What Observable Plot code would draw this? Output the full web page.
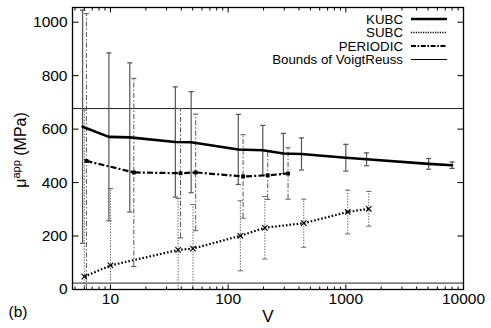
<!DOCTYPE html>
<html><head><meta charset="utf-8">
<script src="https://cdn.jsdelivr.net/npm/d3@7"></script>
<script src="https://cdn.jsdelivr.net/npm/@observablehq/plot@0.6"></script>
<style>body{margin:0;background:#fff}#c{position:relative;width:491px;height:328px}</style>
</head><body><div id="c"></div>
<script>
// KUBC
const kubcV  = [5.8, 9.7, 14.6, 35.6, 48.5, 122, 197, 295, 420, 1000, 1500, 5050, 8000];
const kubcMu = [609, 571, 569, 552, 551, 524, 521, 509, 507, 493, 487, 470, 465];
const kubcSd = [436, 314, 279, 206, 189, 131, 93, 75, 60, 50, 24, 20, 12];
// SUBC
const subcV  = [6.0, 10, 37.6, 50.3, 127, 205, 439, 1038, 1567];
const subcMu = [48, 90, 148, 153, 201, 231, 248, 290, 302];
const subcSd = [623, 288, 193, 165, 131, 117, 90, 82, 65];
// PERIODIC
const perV  = [6.25, 15.8, 39.4, 53, 134, 217, 323];
const perMu = [481, 438, 435, 438, 423, 427, 434];
const perSd = [551, 352, 242, 218, 156, 90, 96];
// Bounds of Voigt/Reuss
const bounds = [24, 677];
// ticks
const xTicksMajor = [10, 100, 1000, 10000];
const xTicksMinor = [5,6,7,8,9,20,30,40,50,60,70,80,90,200,300,400,500,600,700,800,900,2000,3000,4000,5000,6000,7000,8000,9000];
const yTicks = [0, 200, 400, 600, 800, 1000];
const legendLabels = ["KUBC", "SUBC", "PERIODIC", "Bounds of VoigtReuss"];

const xDomain = [4.76, 10000];
const yDomain = [0, 1055];

const table = (V, M, S) => V.map((v, i) => ({v, mu: M[i], sd: S[i]}));
const kubc = table(kubcV, kubcMu, kubcSd);
const subc = table(subcV, subcMu, subcSd);
const per = table(perV, perMu, perSd);

const lo = d => Math.max(yDomain[0], d.mu - d.sd);
const hi = d => Math.min(yDomain[1], d.mu + d.sd);
const capsOf = arr => [
  ...arr.filter(d => d.mu - d.sd >= yDomain[0]).map(d => ({v: d.v, y: d.mu - d.sd})),
  ...arr.filter(d => d.mu + d.sd <= yDomain[1]).map(d => ({v: d.v, y: d.mu + d.sd}))
];

const seg = (x1, y1, x2, y2) => ({draw(ctx) { ctx.moveTo(x1, y1); ctx.lineTo(x2, y2); }});
const capSym = seg(-2.6, 0, 2.6, 0);

const font = "'Liberation Sans', Arial, Helvetica, sans-serif";

function errorMarks(data, stroke, dash, width) {
  return [
    Plot.ruleX(data, {x: "v", y1: lo, y2: hi, stroke, strokeWidth: width, strokeDasharray: dash, strokeLinecap: "butt"}),
    Plot.dot(capsOf(data), {x: "v", y: "y", symbol: capSym, stroke, strokeWidth: width, fill: "none"})
  ];
}

const chart = Plot.plot({
  width: 491, height: 328,
  marginLeft: 72, marginRight: 28, marginTop: 7, marginBottom: 39,
  style: {fontFamily: font, fontSize: "15px", background: "#fff", color: "#000"},
  x: {type: "log", domain: xDomain, axis: null},
  y: {domain: yDomain, axis: null},
  marks: [
    Plot.ruleY(bounds, {stroke: "#222", strokeWidth: 1}),
    ...errorMarks(kubc, "#555", null, 1.2),
    ...errorMarks(per, "#555", "5,2,1.5,2", 1),
    ...errorMarks(subc, "#666", "1.4,1.4", 1),
    Plot.line(subc, {x: "v", y: "mu", stroke: "#000", strokeWidth: 2.2, strokeDasharray: "1.6,2", strokeLinecap: "butt"}),
    Plot.line(per, {x: "v", y: "mu", stroke: "#000", strokeWidth: 2.2, strokeDasharray: "6,2.2,2,2.2", strokeLinecap: "butt"}),
    Plot.line(kubc, {x: "v", y: "mu", stroke: "#000", strokeWidth: 2.6}),
    Plot.dot(subc, {x: "v", y: "mu", symbol: "times", r: 2.6, stroke: "#000", strokeWidth: 1.1}),
    Plot.dot(per, {x: "v", y: "mu", symbol: "square", r: 2.2, fill: "#000"}),
    Plot.frame({stroke: "#000", strokeWidth: 1.3}),
    // inward ticks
    Plot.dot(yTicks, {y: d => d, frameAnchor: "left", symbol: seg(0, 0, 6, 0), stroke: "#000", strokeWidth: 1}),
    Plot.dot(yTicks, {y: d => d, frameAnchor: "right", symbol: seg(0, 0, -6, 0), stroke: "#000", strokeWidth: 1}),
    Plot.dot(xTicksMajor, {x: d => d, frameAnchor: "bottom", symbol: seg(0, 0, 0, -5), stroke: "#000", strokeWidth: 1}),
    Plot.dot(xTicksMajor, {x: d => d, frameAnchor: "top", symbol: seg(0, 0, 0, 5), stroke: "#000", strokeWidth: 1}),
    Plot.dot(xTicksMinor, {x: d => d, frameAnchor: "bottom", symbol: seg(0, 0, 0, -3), stroke: "#000", strokeWidth: 1}),
    Plot.dot(xTicksMinor, {x: d => d, frameAnchor: "top", symbol: seg(0, 0, 0, 3), stroke: "#000", strokeWidth: 1}),
    // tick labels
    Plot.text(yTicks, {y: d => d, frameAnchor: "left", text: d => String(d), textAnchor: "end", dx: -5, fontSize: 15.5}),
    Plot.text(xTicksMajor, {x: d => d, frameAnchor: "bottom", text: d => String(d), dy: 14, fontSize: 15.5}),
    // axis title and panel tag
    Plot.text(["V"], {frameAnchor: "bottom", text: d => d, dy: 32, fontSize: 17}),
    Plot.text(["(b)"], {frameAnchor: "bottom-left", text: d => d, textAnchor: "start", dx: -64, dy: 27, fontSize: 15.5})
  ]
});

document.getElementById("c").appendChild(chart);
const svg = d3.select(chart);

// y-axis title with superscript
const yl = svg.append("text")
  .attr("transform", "translate(26,150) rotate(-90)")
  .attr("text-anchor", "middle")
  .attr("font-family", font).attr("font-size", 16).attr("fill", "#000");
yl.append("tspan").text("\u03bc");
yl.append("tspan").attr("dy", -6).attr("font-size", 11).text("app");
yl.append("tspan").attr("dy", 6).text(" (MPa)");

// legend
const legStyles = [
  {w: 2.6, dash: null},
  {w: 1.6, dash: "1.2,1.2"},
  {w: 2, dash: "5,1.6,1.6,1.6"},
  {w: 1, dash: null}
];
const lg = svg.append("g").attr("font-family", font).attr("font-size", 13.3);
legendLabels.forEach((lab, i) => {
  const y = 19 + i * 13.5;
  lg.append("text").attr("x", 403).attr("y", y).attr("dy", "0.36em")
    .attr("text-anchor", "end").attr("fill", "#000").text(lab);
  lg.append("line").attr("x1", 411).attr("x2", 447).attr("y1", y).attr("y2", y)
    .attr("stroke", "#000").attr("stroke-width", legStyles[i].w)
    .attr("stroke-dasharray", legStyles[i].dash);
});
</script>
</body></html>
